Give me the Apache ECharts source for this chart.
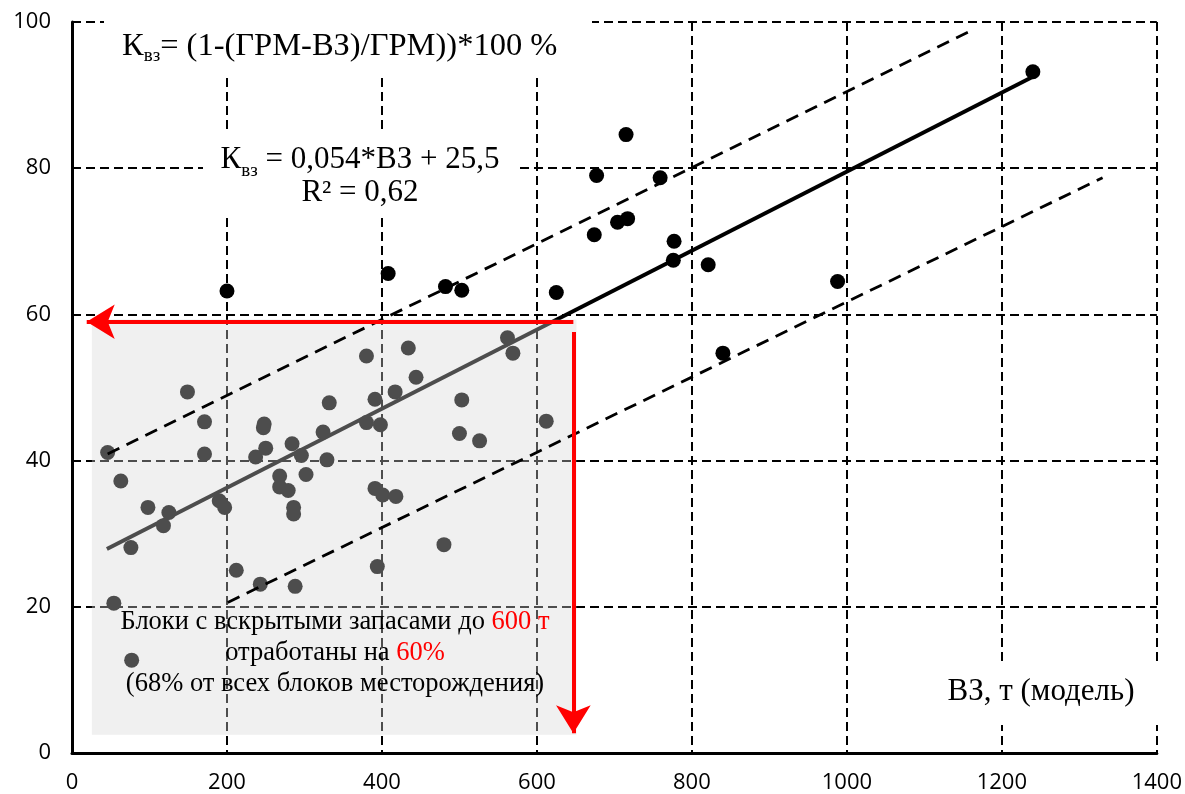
<!DOCTYPE html>
<html>
<head>
<meta charset="utf-8">
<script src="https://cdn.jsdelivr.net/npm/echarts@6/dist/echarts.min.js"></script>
<style>html,body{margin:0;padding:0;background:#fff}#main{width:1185px;height:794px}</style>
</head>
<body>
<div id="main"></div>
<script>
// блоки: ВЗ (т) и Квз (%)
var vzX = [200, 408, 482, 503, 625, 677, 674, 715, 704, 717, 759, 777, 776, 821, 840, 988, 1240,
    46, 63, 54, 76, 77, 98, 118, 125, 149, 171, 171, 190, 197, 212, 237, 243, 247, 248, 250,
    268, 268, 279, 284, 286, 286, 288, 296, 302, 324, 329, 332, 380, 380, 391, 391, 398, 401,
    394, 417, 418, 434, 444, 480, 500, 503, 526, 562, 569, 612];
var kvzY = [63.2, 65.6, 63.8, 63.3, 63.0, 79.0, 70.9, 84.6, 72.6, 73.1, 78.7, 70.0, 67.4, 66.8, 54.7, 64.5, 93.2,
    41.1, 37.2, 20.5, 28.1, 12.7, 33.6, 31.1, 32.9, 49.4, 45.3, 40.9, 34.5, 33.6, 25.0, 40.5, 23.1, 44.5, 45.0, 41.7,
    37.9, 36.4, 35.9, 42.3, 33.6, 32.7, 22.8, 40.7, 38.1, 43.9, 40.1, 47.9, 54.3, 45.2, 48.4, 36.2, 44.9, 35.3,
    25.5, 49.4, 35.1, 55.4, 51.4, 28.5, 43.7, 48.3, 42.7, 56.8, 54.7, 45.4];

var trendX = [45, 1240];
var trendY = [27.9, 92.5];
var upperX = [46, 1162];
var upperY = [40.9, 98.9];
var lowerX = [201, 1330];
var lowerY = [20.6, 78.7];

// область блоков до 600 т: [x0, y0, x1, y1]
var shadeBox = [25.7, 59.3, 651, 2.5];
var arrowLeft = [[647, 59.0], [19, 59.0]];
var arrowDown = [[647, 57.6], [647, 2.7]];

function zip(xs, ys) {
    var out = [];
    for (var i = 0; i < xs.length; i++) out.push([xs[i], ys[i]]);
    return out;
}

var serif = '"Liberation Serif", "Times New Roman", serif';
var myChart = echarts.init(document.getElementById('main'));

var option = {
    animation: false,
    grid: { left: 72, right: 23, top: 22, bottom: 39 },
    xAxis: {
        type: 'value', min: 0, max: 1400, interval: 200,
        axisLine: { show: true, onZero: false, lineStyle: { color: '#000', width: 3 } },
        axisTick: { show: false },
        axisLabel: {
            color: '#000', fontSize: 22, fontFamily: 'Open Sans', margin: 19,
            formatter: function (v) { return String(v); }
        },
        splitLine: { show: true, lineStyle: { color: '#000', width: 2, type: [9, 5] } }
    },
    yAxis: {
        type: 'value', min: 0, max: 100, interval: 20,
        axisLine: { show: true, onZero: false, lineStyle: { color: '#000', width: 3 } },
        axisTick: { show: false },
        axisLabel: { color: '#000', fontSize: 22, fontFamily: 'Open Sans', margin: 21 },
        splitLine: { show: true, lineStyle: { color: '#000', width: 2, type: [9, 5] } }
    },
    series: [
        {
            type: 'line', z: 2, data: zip(trendX, trendY), symbol: 'none', silent: true,
            lineStyle: { color: '#000', width: 4 }
        },
        {
            type: 'scatter', z: 2, data: zip(vzX, kvzY), symbolSize: 15, silent: true,
            itemStyle: { color: '#000', opacity: 1 }
        },
        {
            type: 'custom', z: 3, silent: true,
            data: [shadeBox],
            renderItem: function (params, api) {
                var p0 = api.coord([api.value(0), api.value(1)]);
                var p1 = api.coord([api.value(2), api.value(3)]);
                return {
                    type: 'rect',
                    shape: { x: p0[0], y: p0[1], width: p1[0] - p0[0], height: p1[1] - p0[1] },
                    style: { fill: 'rgba(214,214,214,0.36)' }
                };
            }
        },
        {
            type: 'line', z: 4, data: zip(upperX, upperY), symbol: 'none', silent: true,
            lineStyle: { color: '#000', width: 2.8, type: [13, 8] }
        },
        {
            type: 'line', z: 4, data: zip(lowerX, lowerY), symbol: 'none', silent: true,
            lineStyle: { color: '#000', width: 2.8, type: [13, 8] }
        },
        {
            type: 'line', z: 5, data: [], silent: true,
            markLine: {
                silent: true,
                symbol: ['none', 'arrow'],
                symbolSize: [26, 28],
                label: { show: false },
                lineStyle: { color: '#ff0000', width: 4, type: 'solid' },
                emphasis: { disabled: true },
                data: [
                    [{ coord: arrowLeft[0] }, { coord: arrowLeft[1] }],
                    [{ coord: arrowDown[0] }, { coord: arrowDown[1] }]
                ]
            }
        }
    ],
    graphic: [
        { type: 'rect', z: 100, shape: { x: 104, y: 12, width: 488, height: 66 }, style: { fill: '#fff' } },
        { type: 'rect', z: 100, shape: { x: 203, y: 132, width: 314, height: 83 }, style: { fill: '#fff' } },
        { type: 'rect', z: 100, shape: { x: 930, y: 663, width: 242, height: 62 }, style: { fill: '#fff' } },
        {
            type: 'text', z: 101, x: 122, y: 30,
            style: {
                text: '{m|К}{s|вз}{m|= (1-(ГРМ-ВЗ)/ГРМ))*100 %}',
                align: 'left', verticalAlign: 'top',
                rich: {
                    m: { fontSize: 32.5, fontFamily: serif, fill: '#000', lineHeight: 37, verticalAlign: 'top' },
                    s: { fontSize: 19, fontFamily: serif, fill: '#000', lineHeight: 19, padding: [17, 0, 0, 0], verticalAlign: 'top' }
                }
            }
        },
        {
            type: 'text', z: 101, x: 360, y: 144,
            style: {
                text: '{m|К}{s|вз}{m| = 0,054*ВЗ + 25,5}\n{m|R² = 0,62}',
                align: 'center', verticalAlign: 'top',
                rich: {
                    m: { fontSize: 31, fontFamily: serif, fill: '#000', lineHeight: 33, verticalAlign: 'top', align: 'center' },
                    s: { fontSize: 19, fontFamily: serif, fill: '#000', lineHeight: 19, padding: [18, 0, 0, 0], verticalAlign: 'top' }
                }
            }
        },
        {
            type: 'text', z: 101, x: 1041, y: 692,
            style: {
                text: 'ВЗ, т (модель)',
                font: '31px ' + serif, fill: '#000', align: 'center', verticalAlign: 'middle'
            }
        },
        {
            type: 'text', z: 101, x: 335, y: 607,
            style: {
                text: '{b|Блоки с вскрытыми запасами до }{r|600 т}\n{b|отработаны на }{r|60%}\n{b|(68% от всех блоков месторождения)}',
                align: 'center', verticalAlign: 'top',
                rich: {
                    b: { fontSize: 26.5, fontFamily: serif, fill: '#000', lineHeight: 31 },
                    r: { fontSize: 26.5, fontFamily: serif, fill: '#ff0000', lineHeight: 31 }
                }
            }
        }
    ]
};
myChart.setOption(option);
</script>
</body>
</html>
